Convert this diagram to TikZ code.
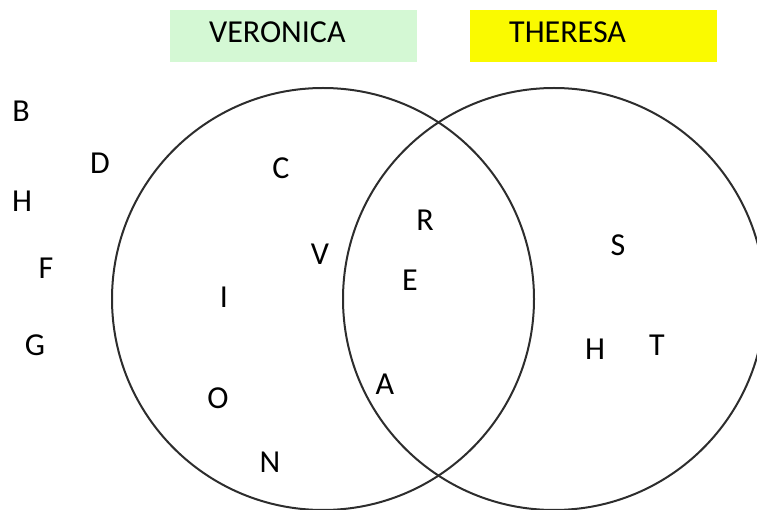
\documentclass[tikz,border=0pt]{standalone}
\usepackage{fontspec}
\setmainfont{Carlito}
\usepackage{tikz}
\definecolor{vgreen}{RGB}{212,248,212}
\definecolor{tyellow}{RGB}{250,250,0}
\definecolor{ringgray}{RGB}{45,45,45}

\begin{document}
\begin{tikzpicture}[x=1pt, y=-1pt,
		letter/.style={inner sep=0pt, font=\fontsize{32}{36}\selectfont},
		ring/.style={line width=2pt, color=ringgray}]
		%%%%% START %%%%%
		\useasboundingbox (0, 0) rectangle (757, 510);
		
		\fill[vgreen] (170, 10) rectangle (417, 62);
		\node[letter, anchor=base west] (veronica) at (209, 43) {VERONICA};
		\fill[tyellow] (470, 10) rectangle (717, 62);
		\node[letter, anchor=base west] (theresa) at (509, 43) {THERESA};
		
		\draw[ring] (323, 299) circle (211);
		\draw[ring] (554, 299) circle (211);
		
		\node[letter] (outB) at (21, 111) {B};
		\node[letter] (outD) at (100, 163) {D};
		\node[letter] (outH) at (22, 201) {H};
		\node[letter] (outF) at (46, 268) {F};
		\node[letter] (outG) at (35, 345) {G};
		
		\node[letter] (verC) at (281, 168) {C};
		\node[letter] (verV) at (320, 254) {V};
		\node[letter] (verI) at (224, 297) {I};
		\node[letter] (verO) at (218, 398) {O};
		\node[letter] (verN) at (270, 462) {N};
		
		\node[letter] (bothR) at (425, 220) {R};
		\node[letter] (bothE) at (410, 280) {E};
		\node[letter] (bothA) at (385, 384) {A};
		
		\node[letter] (thrS) at (618, 245) {S};
		\node[letter] (thrH) at (595, 349) {H};
		\node[letter] (thrT) at (657, 345) {T};
		
		%%%%% END %%%%%
	\end{tikzpicture}
\end{document}
